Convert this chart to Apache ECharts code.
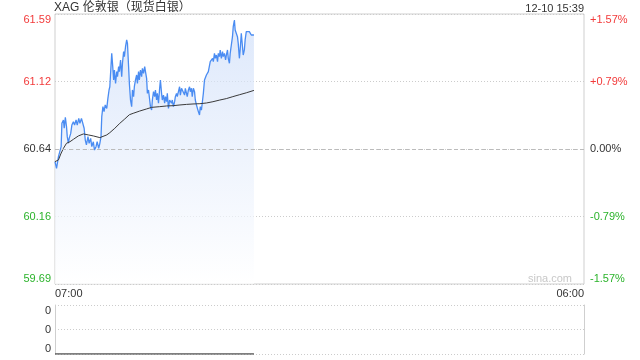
<!DOCTYPE html>
<html><head><meta charset="utf-8">
<script src="https://cdn.jsdelivr.net/npm/echarts@6/dist/echarts.min.js"></script>
<style>html,body{margin:0;padding:0;background:#fff}#c{width:640px;height:360px}</style>
</head><body><div id="c"></div>
<script>
const titleText = 'XAG 伦敦银（现货白银）';
const stampText = '12-10 15:39';
const watermark = 'sina.com';
const xLabels = ['07:00', '06:00'];
const priceLabels = ['59.69', '60.16', '60.64', '61.12', '61.59'];
const pctLabels = ['-1.57%', '-0.79%', '0.00%', '+0.79%', '+1.57%'];
const volLabels = ['0', '0', '0'];
const prevClose = 60.64;
// minutes since 07:00
const times = [
  0,4,9,13,16,18,22,24,27,30,
  32,35,37,41,44,48,51,55,58,62,
  65,69,72,76,79,82,86,89,93,96,
  100,103,107,110,114,117,120,122,125,128,
  131,135,138,141,143,146,148,150,153,155,
  158,161,163,166,168,171,174,176,179,181,
  184,187,189,192,194,197,200,202,205,207,
  210,213,215,218,220,223,226,228,231,234,
  236,239,241,244,247,249,252,254,257,260,
  262,265,267,270,273,275,278,280,283,286,
  288,291,293,296,299,301,304,306,309,312,
  314,317,319,322,325,327,330,332,335,338,
  340,343,345,348,351,353,356,358,361,364,
  366,369,372,374,377,379,382,385,387,390,
  392,395,398,400,403,405,408,411,413,416,
  418,421,424,426,429,431,434,437,439,442,
  445,447,450,452,455,457,460,463,465,468,
  470,473,476,478,481,483,486,488,491,494,
  496,499,502,504,507,510,512,515,519
];
const prices = [
  60.553,60.506,60.588,60.600,60.659,60.824,60.848,60.789,60.867,60.801,
  60.730,60.683,60.718,60.753,60.812,60.836,60.812,60.848,60.812,60.859,
  60.824,60.859,60.867,60.789,60.706,60.671,60.730,60.683,60.718,60.659,
  60.694,60.635,60.659,60.694,60.647,60.683,60.730,60.871,60.942,60.907,
  60.954,60.930,61.001,61.060,61.083,61.225,61.319,61.249,61.131,61.201,
  61.107,61.190,61.154,61.225,61.190,61.272,61.154,61.249,61.331,61.296,
  61.366,61.414,61.390,61.225,61.107,60.989,60.942,61.060,61.013,61.083,
  61.131,61.166,61.107,61.190,61.131,61.201,61.154,61.213,61.178,61.225,
  61.190,61.142,61.036,61.060,60.989,60.942,60.918,60.989,61.048,61.013,
  61.060,60.989,61.036,60.966,61.072,61.131,61.036,60.989,61.024,60.966,
  61.013,60.977,61.036,60.930,60.989,61.001,60.966,60.989,60.942,60.977,
  61.013,61.036,61.013,61.048,61.083,61.024,61.072,61.060,61.083,61.024,
  61.072,61.060,61.013,61.060,61.083,61.048,61.072,61.013,61.072,61.048,
  60.989,60.954,60.942,60.907,60.883,60.942,60.918,60.989,61.036,61.131,
  61.142,61.166,61.154,61.190,61.201,61.260,61.249,61.284,61.260,61.319,
  61.284,61.307,61.260,61.319,61.296,61.343,61.284,61.331,61.296,61.319,
  61.272,61.307,61.343,61.284,61.249,61.319,61.378,61.437,61.508,61.555,
  61.484,61.473,61.437,61.390,61.284,61.343,61.461,61.473,61.307,61.343,
  61.414,61.473,61.484,61.461,61.473,61.461,61.449,61.454,61.449
];
const avgTimes = [0,9,15,22,30,39,48,61,74,87,100,117,135,143,156,169,182,194,204,221,239,252,273,291,308,326,343,360,378,395,412,430,447,464,482,499,519];
const avgPrices = [60.553,60.565,60.607,60.647,60.683,60.694,60.711,60.735,60.749,60.742,60.735,60.723,60.742,60.758,60.789,60.824,60.855,60.885,60.895,60.911,60.926,60.937,60.942,60.947,60.949,60.954,60.958,60.961,60.963,60.968,60.977,60.989,60.999,61.013,61.027,61.040,61.057];
const volTimes = [0, 519];
const volumes = [0, 0];

const RED = '#f23a3a', GREEN = '#2bb32b', DARK = '#333';
const FONT = 'Arial, "Liberation Sans", "Noto Sans CJK SC", sans-serif';
const priceColors = [GREEN, GREEN, DARK, RED, RED];

const chart = echarts.init(document.getElementById('c'), null, {renderer: 'canvas'});
chart.setOption({
  animation: false,
  backgroundColor: '#fff',
  textStyle: {fontFamily: FONT},
  title: [
    {text: titleText, left: 54, top: 2, textStyle: {fontSize: 12, fontWeight: 'normal', color: DARK, fontFamily: FONT}, padding: 0},
    {text: stampText, right: 56, top: 3, textStyle: {fontSize: 11, fontWeight: 'normal', color: DARK, fontFamily: FONT}, padding: 0},
    {text: watermark, right: 68, top: 273, textStyle: {fontSize: 11, fontWeight: 'normal', color: '#c8c8c8', fontFamily: FONT}, padding: 0}
  ],
  grid: [
    {left: 55, right: 56, top: 14, height: 270, show: true, borderColor: '#cfcfcf', borderWidth: 1, backgroundColor: 'transparent'},
    {left: 55, right: 56, top: 305, height: 49, show: false}
  ],
  xAxis: [
    {type: 'value', gridIndex: 0, min: 0, max: 1380, interval: 1380,
      axisLine: {show: false}, axisTick: {show: false}, splitLine: {show: false},
      axisLabel: {show: true, margin: 4, fontSize: 11, color: DARK, fontFamily: FONT,
        alignMinLabel: 'left', alignMaxLabel: 'right',
        formatter: (v, i) => xLabels[i]}},
    {type: 'value', gridIndex: 1, min: 0, max: 1380, interval: 1380,
      axisLine: {show: false}, axisTick: {show: false}, splitLine: {show: false}, axisLabel: {show: false}}
  ],
  yAxis: [
    {type: 'value', gridIndex: 0, min: 59.6875, max: 61.5975, interval: 0.4775,
      axisLine: {show: false}, axisTick: {show: false},
      splitLine: {show: true, lineStyle: {color: '#cccccc', type: [1, 2], width: 1}},
      axisLabel: {margin: 4, fontSize: 11, fontFamily: FONT,
        verticalAlignMinLabel: 'bottom', verticalAlignMaxLabel: 'top',
        color: (v, i) => priceColors[i],
        formatter: (v, i) => priceLabels[i]}},
    {type: 'value', gridIndex: 0, position: 'right', min: -1.575, max: 1.575, interval: 0.7875,
      axisLine: {show: false}, axisTick: {show: false}, splitLine: {show: false},
      axisLabel: {margin: 6, fontSize: 11, fontFamily: FONT,
        verticalAlignMinLabel: 'bottom', verticalAlignMaxLabel: 'top',
        color: (v, i) => priceColors[i],
        formatter: (v, i) => pctLabels[i]}},
    {type: 'value', gridIndex: 1, min: 0, max: 2, interval: 1,
      axisLine: {show: true, lineStyle: {color: '#cfcfcf'}}, axisTick: {show: false},
      splitLine: {show: true, lineStyle: {color: '#cccccc', type: [1, 2], width: 1}},
      axisLabel: {margin: 4, fontSize: 11, color: DARK, fontFamily: FONT,
        verticalAlignMinLabel: 'bottom', verticalAlignMaxLabel: 'top',
        formatter: (v, i) => volLabels[i]}},
    {type: 'value', gridIndex: 1, position: 'right', min: 0, max: 2, interval: 1,
      axisLine: {show: true, lineStyle: {color: '#cfcfcf'}}, axisTick: {show: false},
      splitLine: {show: false}, axisLabel: {show: false}}
  ],
  series: [
    {type: 'line', xAxisIndex: 0, yAxisIndex: 0, data: times.map((t, i) => [t, prices[i]]),
      showSymbol: false, symbol: 'none',
      lineStyle: {color: '#4a8cf2', width: 1.3},
      areaStyle: {origin: 'start', color: new echarts.graphic.LinearGradient(0, 0, 0, 1, [
        {offset: 0, color: 'rgba(205,221,249,0.95)'},
        {offset: 1, color: 'rgba(255,255,255,1)'}])},
      markLine: {silent: true, symbol: 'none', label: {show: false},
        lineStyle: {color: '#bbbbbb', type: [4, 3], width: 1},
        data: [{yAxis: prevClose}]},
      z: 2},
    {type: 'line', xAxisIndex: 0, yAxisIndex: 0, data: avgTimes.map((t, i) => [t, avgPrices[i]]),
      showSymbol: false, symbol: 'none',
      lineStyle: {color: '#3a3a3a', width: 1}, z: 3},
    {type: 'line', xAxisIndex: 1, yAxisIndex: 2, data: volTimes.map((t, i) => [t, volumes[i]]),
      showSymbol: false, symbol: 'none',
      lineStyle: {color: '#555', width: 1.5}, z: 3}
  ]
});
</script>
</body></html>
